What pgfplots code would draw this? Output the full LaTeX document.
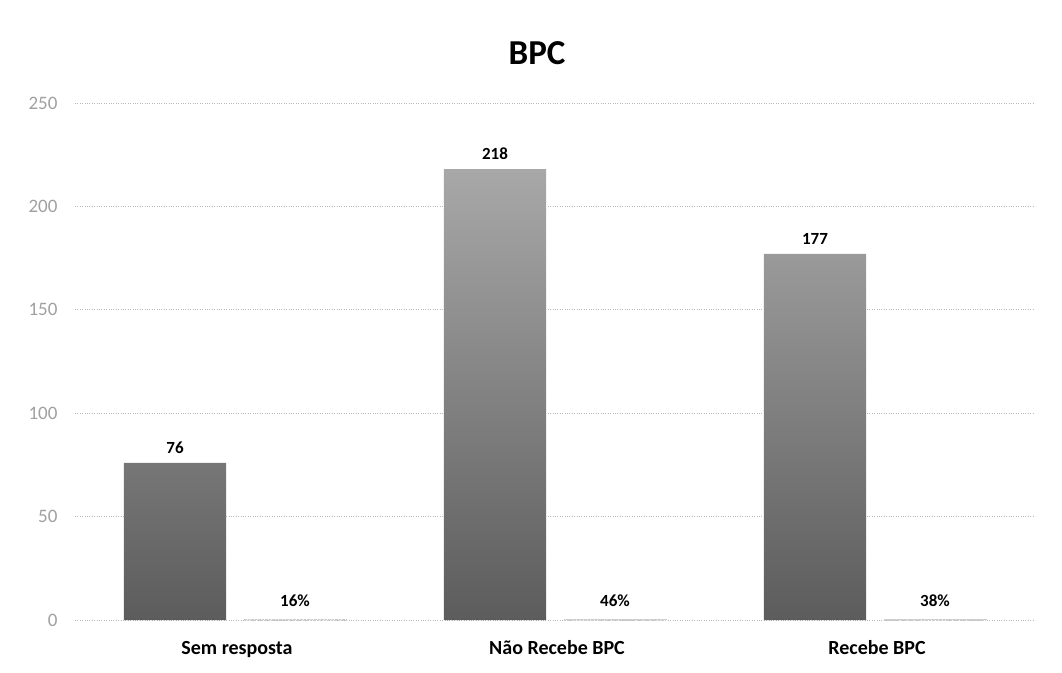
\documentclass[border=0pt]{standalone}
\usepackage{fontspec}
\setmainfont{Carlito}
\usepackage{pgfplots}
\pgfplotsset{compat=1.18}
\definecolor{bartop}{HTML}{A8A8A8}
\definecolor{barbot}{HTML}{5C5C5C}
\definecolor{tickgray}{HTML}{A0A0A0}
\definecolor{gridgray}{HTML}{B8B8B8}
\begin{document}
\begin{tikzpicture}
\begin{axis}[
  name=ax,
  scale only axis,
  width=960pt, height=517pt,
  xmin=-0.5, xmax=2.5,
  ymin=0, ymax=250,
  ytick={0,50,100,150,200,250},
  xtick={0,1,2},
  xticklabels={Sem resposta, Não Recebe BPC, Recebe BPC},
  xticklabel style={font=\fontsize{20}{24}\selectfont\bfseries, anchor=base, yshift=-34pt, xshift=2pt},
  yticklabel style={font=\fontsize{19}{22}\selectfont, text=tickgray, anchor=east, xshift=-14pt},
  /pgf/number format/assume math mode=true,
  axis line style={draw=none},
  major tick length=0pt,
  ymajorgrids,
  grid style={dotted, gridgray, line width=0.9pt},
  clip=false,
]
\addplot[ybar, bar width=0.319, bar shift=-0.1875, draw=none,
  top color=bartop, bottom color=barbot,
  nodes near coords,
  every node near coord/.append style={font=\fontsize{17}{20}\selectfont\bfseries, text=black, yshift=6pt, xshift=-60pt}]
  coordinates {(0,76) (1,218) (2,177)};
\addplot[ybar, bar width=0.319, bar shift=0.1875, draw=gray!40, densely dotted, fill=gray!30,
  point meta=explicit symbolic,
  nodes near coords,
  every node near coord/.append style={font=\fontsize{17}{20}\selectfont\bfseries, text=black, yshift=9pt, xshift=60pt, solid}]
  table[meta=label] {
x y label
0 0.16 16\%
1 0.46 46\%
2 0.38 38\%
};
\node[font=\fontsize{35}{40}\selectfont\bfseries] at (axis description cs:0.48125,1.0967) {BPC};
\end{axis}
\pgfresetboundingbox
\path[use as bounding box] ([xshift=-75pt,yshift=-52pt]ax.south west) rectangle ([xshift=27pt,yshift=103pt]ax.north east);
\end{tikzpicture}
\end{document}
